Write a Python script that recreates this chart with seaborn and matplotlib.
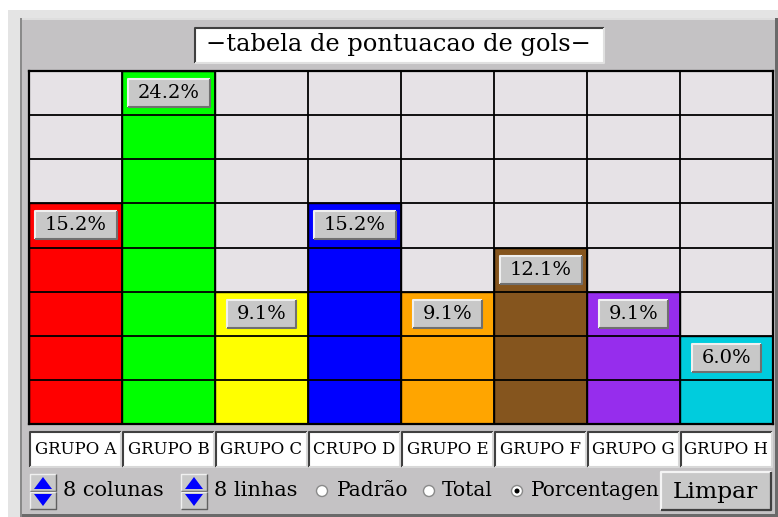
import matplotlib
matplotlib.use("Agg")
import matplotlib.pyplot as plt
from matplotlib.patches import Rectangle, Ellipse, Polygon
from matplotlib.lines import Line2D
from matplotlib.transforms import IdentityTransform
import numpy as np
import seaborn as sns

groups = ["GRUPO A", "GRUPO B", "GRUPO C", "CRUPO D",
          "GRUPO E", "GRUPO F", "GRUPO G", "GRUPO H"]
goals = [5, 8, 3, 5, 3, 4, 3, 2]
pct_labels = ["15.2%", "24.2%", "9.1%", "15.2%", "9.1%", "12.1%", "9.1%", "6.0%"]
colors = ["#ff0000", "#00ff00", "#ffff00", "#0000ff",
          "#ffa500", "#85551e", "#962ded", "#00ccdd"]
title = "\u2212tabela de pontuacao de gols\u2212"
n_rows = 8

W, H = 778, 517
PANEL = "#c4c2c4"
CELL = "#e6e2e6"
FONT = "DejaVu Serif"

sns.set_style("white")
plt.rcParams["font.family"] = FONT
plt.rcParams["text.color"] = "black"

fig = plt.figure(figsize=(W / 100, H / 100), dpi=100)
fig.patch.set_facecolor("white")
PIX = IdentityTransform()


def rect(x0, y0, x1, y1, host, **kw):
  # pixel coords, y measured from the top of the image
  r = Rectangle((x0, H - y1), x1 - x0, y1 - y0, transform=PIX, clip_on=False, **kw)
  if host is fig:
    fig.add_artist(r)
  else:
    host.add_patch(r)
  return r


def line(xs, ys, color, host, lw=1.2, z=3):
  ln = Line2D(xs, [H - y for y in ys], transform=PIX, color=color, linewidth=lw,
              zorder=z, solid_capstyle="butt", clip_on=False)
  if host is fig:
    fig.add_artist(ln)
  else:
    host.add_line(ln)


def bevel(x0, y0, x1, y1, face, tl, br, host, lw=1.2, z=2):
  rect(x0, y0, x1, y1, host, facecolor=face, edgecolor="none", zorder=z)
  line([x0, x0, x1], [y1, y0, y0], tl, host, lw, z + 0.1)
  line([x0, x1, x1], [y1, y1, y0], br, host, lw, z + 0.1)


# outer frame + panel
rect(8, 10, W, H, fig, facecolor="#e4e4e4", edgecolor="none", zorder=-3)
rect(22, 18, W, H, fig, facecolor=PANEL, edgecolor="none", zorder=-2)
rect(20, 18, 22, H, fig, facecolor="#8a8a8a", edgecolor="none", zorder=-1)
rect(22, 18, W, 19.5, fig, facecolor="#dedede", edgecolor="none", zorder=-1)
rect(775, 18, W, H, fig, facecolor="#6a6a6a", edgecolor="none", zorder=-1)
rect(22, 514, W, H, fig, facecolor="#6a6a6a", edgecolor="none", zorder=-1)

# title box
bevel(195, 28, 604, 63, "white", "#404040", "#e0e0e0", fig, lw=1.5)
fig.text(398 / W, 1 - 45 / H, title, ha="center", va="center", fontsize=17.4,
         zorder=5)

# main grid / bars
ax = fig.add_axes([29 / W, 1 - 424 / H, 744 / W, 353 / H])
ax.set_facecolor(CELL)
sns.barplot(x=groups, y=goals, hue=groups, palette=colors, legend=False,
            width=1, saturation=1, edgecolor="black", linewidth=1, ax=ax)
ax.set_xlim(-0.5, len(groups) - 0.5)
ax.set_ylim(0, n_rows)
ax.set_yticks(range(n_rows + 1))
ax.set_xticks(np.arange(-0.5, len(groups), 1))
ax.grid(True, color="black", linewidth=1.3)
ax.set_axisbelow(False)
ax.tick_params(length=0, labelbottom=False, labelleft=False)
ax.set_xlabel("")
ax.set_ylabel("")
for s in ax.spines.values():
  s.set_color("black")
  s.set_linewidth(1.6)

pct_texts = []
for i, (g, lab) in enumerate(zip(goals, pct_labels)):
  t = ax.text(i, g - 0.5, lab, ha="center", va="center", fontsize=14, zorder=6)
  pct_texts.append(t)

# group names under the columns
xt = ax.get_xaxis_transform()
for i, name in enumerate(groups):
  ax.text(i, -0.072, name, transform=xt, ha="center", va="center",
          fontsize=11.9, clip_on=False, zorder=6)

fig.canvas.draw()
renderer = fig.canvas.get_renderer()

# gray label boxes sized around the text
for t in pct_texts:
  bb = t.get_window_extent(renderer)
  cx = (bb.x0 + bb.x1) / 2
  cy = H - (bb.y0 + bb.y1) / 2
  half_w = bb.width / 2 + 10
  bevel(cx - half_w, cy - 14, cx + half_w, cy + 14, "#c8c8c8", "#f0f0f0", "#707070",
        ax, lw=1.5, z=4)

# white boxes behind group names
col_w = 744 / len(groups)
for i in range(len(groups)):
  x0 = 29 + i * col_w + 1
  bevel(x0, 432, x0 + col_w - 2, 467, "white", "#404040", "#d8d8d8", ax, lw=1.5, z=2)


# controls row
def spinner(x0):
  for ya, yb, tip, base in [(474, 491, 477, 489), (492, 509, 506, 494)]:
    bevel(x0, ya, x0 + 26, yb, "#c8c8c8", "#f0f0f0", "#606060", fig, lw=1, z=2)
    fig.add_artist(Polygon([(x0 + 4, H - base), (x0 + 22, H - base), (x0 + 13, H - tip)],
                           closed=True, transform=PIX, facecolor="#0000ff",
                           edgecolor="none", zorder=4))


spinner(30)
fig.text(63 / W, 1 - 491 / H, "8 colunas", ha="left", va="center", fontsize=15)
spinner(181)
fig.text(214 / W, 1 - 491 / H, "8 linhas", ha="left", va="center", fontsize=15)

radios = [(322, 337, "Padrão", False), (429, 442, "Total", False), (517, 531, "Porcentagen", True)]
for rx, tx, lab, sel in radios:
  fig.add_artist(Ellipse((rx, H - 491), 11, 11, transform=PIX,
                         facecolor="white", edgecolor="#8a8a8a", linewidth=1, zorder=3))
  if sel:
    fig.add_artist(Ellipse((rx, H - 491), 5, 5, transform=PIX,
                           facecolor="black", edgecolor="none", zorder=4))
  fig.text(tx / W, 1 - 491 / H, lab, ha="left", va="center", fontsize=14.5)

bevel(661, 472, 771, 510, "#c8c8c8", "#f4f4f4", "#404040", fig, lw=1.6, z=2)
fig.text(715 / W, 1 - 492 / H, "Limpar", ha="center", va="center", fontsize=16.8,
         zorder=5)

fig.savefig("out.png", dpi=100, facecolor=fig.get_facecolor())
